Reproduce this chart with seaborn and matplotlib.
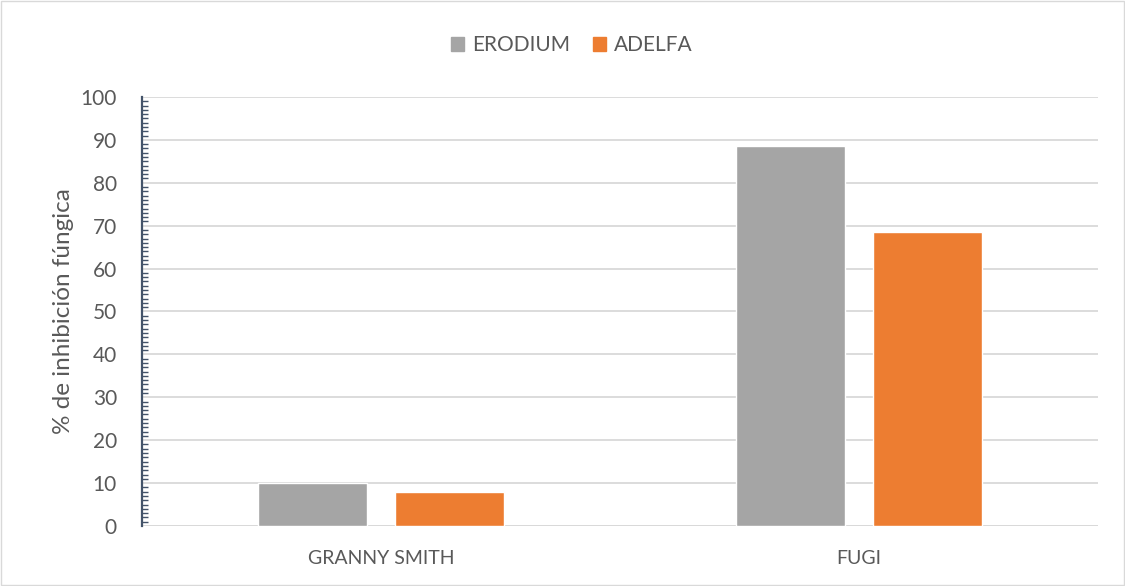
import matplotlib
matplotlib.use("Agg")
import matplotlib.pyplot as plt
from matplotlib.ticker import MultipleLocator
from matplotlib.patches import Rectangle
import seaborn as sns
import pandas as pd

# Data
cultivares = ["GRANNY SMITH", "FUGI"]
extractos = ["ERODIUM", "ADELFA"]
erodium = [10.0, 88.6]
adelfa = [8.0, 68.5]

df = pd.DataFrame({
    "cultivar": cultivares * 2,
    "extracto": [extractos[0]] * 2 + [extractos[1]] * 2,
    "valor": erodium + adelfa,
})

sns.set_theme(style="white")
plt.rcParams["font.family"] = ["Lato", "DejaVu Sans"]

colores = {"ERODIUM": "#A5A5A5", "ADELFA": "#ED7D31"}
texto = "#595959"

fig = plt.figure(figsize=(11.25, 5.86), dpi=100)
ax = fig.add_axes([0.1262, 0.1024, 0.8498, 0.7321])

sns.barplot(data=df, x="cultivar", y="valor", hue="extracto", order=cultivares,
            hue_order=extractos, palette=colores, width=0.57, gap=0.2,
            saturation=1, ax=ax, legend=False, zorder=3)

ax.set_ylim(0, 100)
ax.set_xlim(-0.5, 1.5)
ax.yaxis.set_major_locator(MultipleLocator(10))
ax.yaxis.set_minor_locator(MultipleLocator(1))
ax.grid(axis="y", which="major", color="#D9D9D9", linewidth=1.3, zorder=0)
ax.set_axisbelow(True)

for s in ["top", "right", "bottom"]:
    ax.spines[s].set_visible(False)
ax.spines["left"].set_color("#44546A")
ax.spines["left"].set_linewidth(1.6)
ax.axhline(0, color="#D9D9D9", linewidth=1.3, zorder=1)

ax.tick_params(axis="y", which="major", direction="inout", length=8, width=1.3,
               color="#44546A", labelsize=15, labelcolor=texto, pad=14)
ax.tick_params(axis="y", which="minor", direction="in", length=4, width=1.0,
               color="#44546A", left=True)
ax.tick_params(axis="x", length=0, labelsize=14, labelcolor=texto, pad=17)

ax.set_xlabel("")
ax.set_ylabel("% de inhibición fúngica", fontsize=17.5, color=texto, labelpad=5)

handles = [Rectangle((0, 0), 1, 1, color=colores[e]) for e in extractos]
fig.legend(handles, extractos, loc="center", bbox_to_anchor=(0.508, 0.923), ncol=2,
           frameon=False, fontsize=15, labelcolor=texto, handlelength=0.65,
           handleheight=0.65, handletextpad=0.35, columnspacing=1.1)

fig.patches.append(Rectangle((0.001, 0.001), 0.998, 0.997, transform=fig.transFigure,
                             fill=False, edgecolor="#D9D9D9", linewidth=1))

fig.savefig("out.png", dpi=100)
